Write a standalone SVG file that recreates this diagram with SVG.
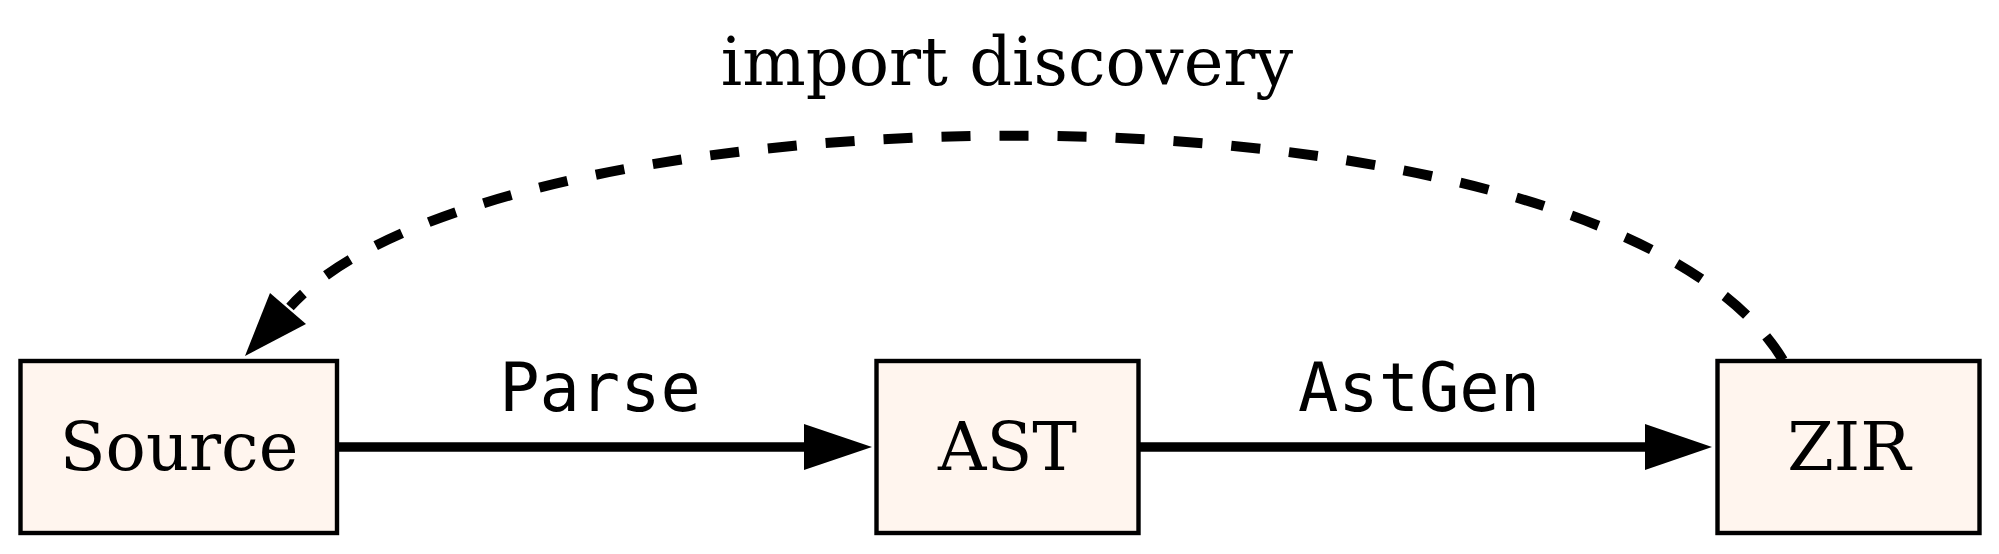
<svg xmlns="http://www.w3.org/2000/svg" width="1999" height="554" viewBox="0 0 1999 554">
  <style>
    .node rect { fill: #fff5ee; stroke: #000000; stroke-width: 4.4; }
    .nlabel { font-family: "DejaVu Serif", "Liberation Serif", serif; font-size: 67px; fill: #000000; text-anchor: middle; }
    .elabel { font-family: "DejaVu Sans Mono", "Liberation Mono", monospace; font-size: 67px; fill: #000000; text-anchor: middle; }
    .edge { fill: none; stroke: #000000; stroke-width: 9.5; }
    .dashed { stroke-dasharray: 29 29; stroke-width: 10; }
    .head { fill: #000000; stroke: none; }
  </style>
  <rect x="0" y="0" width="1999" height="554" fill="#ffffff"/>

  <g id="connectors">
    <g id="edge-parse">
      <line class="edge" x1="339" y1="447" x2="806" y2="447"/>
      <polygon class="head" points="804,424 872,447 804,470"/>
      <text class="elabel" x="600" y="411">Parse</text>
    </g>
    <g id="edge-astgen">
      <line class="edge" x1="1140" y1="447" x2="1647" y2="447"/>
      <polygon class="head" points="1645,424 1712,447 1645,470"/>
      <text class="elabel" x="1419" y="411">AstGen</text>
    </g>
    <g id="edge-import">
      <path class="edge dashed" d="M1783,360 C1600,60 494,80 290,307"/>
      <polygon class="head" points="270,293 245,356 306,324"/>
      <text class="nlabel" x="1007" y="85">import discovery</text>
    </g>
  </g>

  <g id="node-source" class="node">
    <rect x="20.5" y="361" width="316.5" height="172"/>
    <text class="nlabel" x="179" y="470">Source</text>
  </g>
  <g id="node-ast" class="node">
    <rect x="876.5" y="361" width="262" height="172"/>
    <text class="nlabel" x="1007.5" y="470">AST</text>
  </g>
  <g id="node-zir" class="node">
    <rect x="1717.5" y="361" width="262" height="172"/>
    <text class="nlabel" x="1849" y="470">ZIR</text>
  </g>
</svg>
